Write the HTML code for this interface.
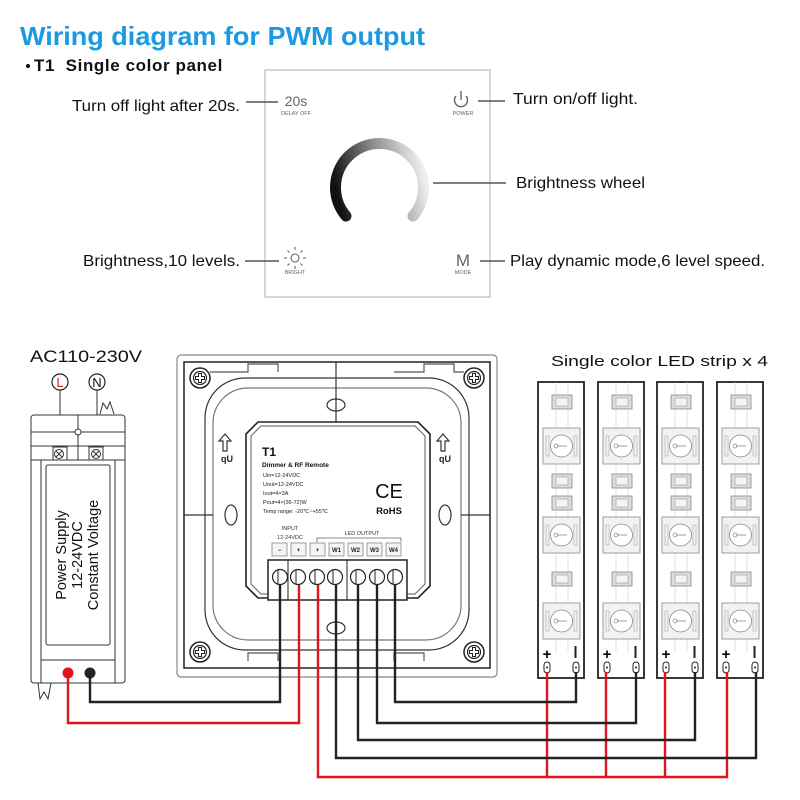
<!DOCTYPE html>
<html><head><meta charset="utf-8"><style>html,body{margin:0;padding:0;background:#fff}svg{display:block}</style></head>
<body>
<svg width="800" height="800" viewBox="0 0 800 800" xmlns="http://www.w3.org/2000/svg" font-family="Liberation Sans, Arial, sans-serif">
<defs>
<linearGradient id="wg" x1="0" y1="0.6" x2="1" y2="0.4">
<stop offset="0" stop-color="#111"/><stop offset="0.5" stop-color="#888"/><stop offset="1" stop-color="#eee"/>
</linearGradient>
<g id="screw"><circle r="10" fill="#fff" stroke="#222" stroke-width="1.5"/><circle r="6.5" fill="none" stroke="#222" stroke-width="1.2"/><path d="M-1.5,-4.5h3v3h3v3h-3v3h-3v-3h-3v-3h3z" fill="#fff" stroke="#222" stroke-width="1"/></g>
<g id="res"><rect x="0" y="0" width="20" height="14" fill="#ddd" stroke="#888" stroke-width="0.8"/><rect x="4" y="3" width="12" height="8" fill="#f4f4f4" stroke="#999" stroke-width="0.6"/></g>
<g id="led"><rect x="0" y="0" width="37" height="36" fill="#f2f2f2" stroke="#888" stroke-width="0.8"/><circle cx="18.5" cy="18" r="11" fill="#fff" stroke="#888" stroke-width="0.8"/><line x1="14" y1="18" x2="24" y2="18" stroke="#888" stroke-width="0.8"/><circle cx="13" cy="18" r="2" fill="none" stroke="#888" stroke-width="0.7"/><rect x="3" y="8" width="3" height="20" fill="none" stroke="#aaa" stroke-width="0.6"/><rect x="31" y="8" width="3" height="20" fill="none" stroke="#aaa" stroke-width="0.6"/></g>
<g id="strip">
<rect x="0" y="0" width="46" height="296" fill="#fff" stroke="#222" stroke-width="1.8"/>
<line x1="18" y1="0" x2="18" y2="270" stroke="#ccc" stroke-width="0.6"/>
<line x1="30" y1="0" x2="30" y2="270" stroke="#ccc" stroke-width="0.6"/>
<use href="#res" x="14" y="13"/><use href="#led" x="5" y="46"/><use href="#res" x="14" y="92"/><use href="#res" x="14" y="114"/><use href="#led" x="5" y="135"/><use href="#res" x="14" y="190"/><use href="#led" x="5" y="221"/>
<text x="9" y="277" font-size="15" font-weight="bold" text-anchor="middle">+</text>
<line x1="37.5" y1="264" x2="37.5" y2="276" stroke="#222" stroke-width="2"/>
<rect x="6" y="280" width="6" height="11" rx="3" fill="#fff" stroke="#222" stroke-width="1"/><circle cx="9" cy="285.5" r="1" fill="#222"/>
<rect x="35" y="280" width="6" height="11" rx="3" fill="#fff" stroke="#222" stroke-width="1"/><circle cx="38" cy="285.5" r="1" fill="#222"/>
</g>
</defs>

<!-- Titles -->
<text x="20" y="45" font-size="26" font-weight="bold" fill="#1a9ae0" textLength="405" lengthAdjust="spacingAndGlyphs">Wiring diagram for PWM output</text>
<circle cx="28" cy="66" r="2" fill="#111"/>
<text x="34" y="71" font-size="17" font-weight="bold" fill="#111" letter-spacing="0.6" xml:space="preserve">T1  Single color panel</text>

<!-- Front panel -->
<rect x="265" y="70" width="225" height="227" fill="#fff" stroke="#bbb" stroke-width="1.2"/>
<text x="296" y="106" font-size="14" fill="#666" text-anchor="middle">20s</text>
<text x="296" y="115" font-size="5.5" fill="#666" text-anchor="middle">DELAY OFF</text>
<path d="M456,96 A6.5,6.5 0 1 0 466,96" fill="none" stroke="#666" stroke-width="1.4"/><line x1="461" y1="91" x2="461" y2="100" stroke="#666" stroke-width="1.4"/>
<text x="463" y="115" font-size="5.5" fill="#666" text-anchor="middle">POWER</text>
<path d="M346,216 A44,44 0 1 1 413,216" fill="none" stroke="url(#wg)" stroke-width="11" stroke-linecap="round"/>
<g stroke="#666" stroke-width="1.1" fill="none"><circle cx="295" cy="258" r="4"/><path d="M295,250v-3M295,266v3M287,258h-3M303,258h3M289.5,252.5l-2,-2M300.5,263.5l2,2M300.5,252.5l2,-2M289.5,263.5l-2,2"/></g>
<text x="295" y="274" font-size="5.5" fill="#666" text-anchor="middle">BRIGHT</text>
<text x="463" y="266" font-size="17" fill="#666" text-anchor="middle">M</text>
<text x="463" y="274" font-size="5.5" fill="#666" text-anchor="middle">MODE</text>
<g stroke="#333" stroke-width="1.2">
<line x1="246" y1="102" x2="278" y2="102"/><line x1="478" y1="101" x2="505" y2="101"/>
<line x1="433" y1="183" x2="506" y2="183"/><line x1="245" y1="261" x2="279" y2="261"/><line x1="480" y1="261" x2="505" y2="261"/>
</g>
<g font-size="16" fill="#111">
<text x="72" y="111" textLength="168" lengthAdjust="spacingAndGlyphs">Turn off light after 20s.</text>
<text x="513" y="104" textLength="125" lengthAdjust="spacingAndGlyphs">Turn on/off light.</text>
<text x="516" y="188" textLength="129" lengthAdjust="spacingAndGlyphs">Brightness wheel</text>
<text x="83" y="266" textLength="157" lengthAdjust="spacingAndGlyphs">Brightness,10 levels.</text>
<text x="510" y="266" textLength="255" lengthAdjust="spacingAndGlyphs">Play dynamic mode,6 level speed.</text>
</g>

<!-- Power supply -->
<text x="30" y="362" font-size="16.5" fill="#111" textLength="112" lengthAdjust="spacingAndGlyphs">AC110-230V</text>
<circle cx="60" cy="382" r="8" fill="#fff" stroke="#222" stroke-width="1.2"/><text x="60" y="387" font-size="13" fill="#e0141e" text-anchor="middle">L</text>
<circle cx="97" cy="382" r="8" fill="#fff" stroke="#222" stroke-width="1.2"/><text x="97" y="387" font-size="13" fill="#111" text-anchor="middle">N</text>
<g stroke="#333" stroke-width="1" fill="none">
<line x1="60" y1="390" x2="60" y2="450"/><line x1="97" y1="390" x2="97" y2="450"/>
<path d="M100,414 l3,-11 l4,6 l3,-7 l4,12"/>
<rect x="31" y="415" width="94" height="268" rx="3" fill="#fff"/>
<line x1="31" y1="432" x2="125" y2="432"/><line x1="31" y1="446" x2="125" y2="446"/><line x1="31" y1="460" x2="125" y2="460"/>
<line x1="78" y1="415" x2="78" y2="460"/>
<line x1="41" y1="460" x2="41" y2="683"/><line x1="115" y1="460" x2="115" y2="683"/><line x1="41" y1="660" x2="115" y2="660"/>
<rect x="46" y="465" width="64" height="180" rx="2"/>
<rect x="53" y="447" width="14" height="13"/><rect x="89" y="447" width="14" height="13"/>
<path d="M38,683 l2,16 l4,-7 l4,7 l3,-16"/>
</g>
<circle cx="78" cy="432" r="3" fill="#fff" stroke="#333"/>
<g stroke="#333" stroke-width="1" fill="#fff"><circle cx="59" cy="454" r="4.5"/><circle cx="96" cy="454" r="4.5"/><path d="M56,451l6,6M62,451l-6,6M93,451l6,6M99,451l-6,6"/></g>
<g transform="translate(78,555) rotate(-90)" font-size="14.5" fill="#111" text-anchor="middle">
<text x="0" y="-12">Power Supply</text><text x="0" y="4">12-24VDC</text><text x="0" y="20">Constant Voltage</text>
</g>

<!-- Controller back -->
<g stroke="#333" stroke-width="1.2" fill="none">
<rect x="177" y="355" width="320" height="322" rx="4" fill="#fff" stroke="#888"/>
<rect x="184" y="362" width="306" height="306" stroke="#222" stroke-width="1.5"/>
<rect x="205" y="378" width="264" height="272" rx="40"/>
<rect x="213" y="388" width="248" height="252" rx="35" stroke="#777"/>
<line x1="336" y1="362" x2="336" y2="422"/><line x1="184" y1="515" x2="213" y2="515"/><line x1="461" y1="515" x2="490" y2="515"/>
<path d="M210,372 h38 v-8 h30 v8 M394,372 h30 v-8 h30 v8 h10" stroke="#555"/>
<path d="M248,661 v-8 h30 v8 M394,661 v-8 h30 v8" stroke="#555"/>
<ellipse cx="336" cy="405" rx="9" ry="6"/><ellipse cx="336" cy="628" rx="9" ry="6"/>
<ellipse cx="231" cy="515" rx="6" ry="10"/><ellipse cx="445" cy="515" rx="6" ry="10"/>
<path d="M258,422 h160 l12,12 v152 l-12,12 h-160 l-12,-12 v-152 z" stroke="#222" stroke-width="1.6" fill="#fff"/>
<path d="M261,426 h154 l10,10 v148 l-10,10 h-154 l-10,-10 v-148 z" stroke="#777"/>
<path d="M223,451v-10h-4l6,-7l6,7h-4v10z"/><path d="M441,451v-10h-4l6,-7l6,7h-4v10z"/>
</g>
<text x="227" y="462" font-size="9" font-weight="bold" fill="#222" text-anchor="middle">qU</text>
<text x="445" y="462" font-size="9" font-weight="bold" fill="#222" text-anchor="middle">qU</text>
<use href="#screw" x="200" y="378"/><use href="#screw" x="474" y="378"/><use href="#screw" x="200" y="652"/><use href="#screw" x="474" y="652"/>
<text x="262" y="456" font-size="12" font-weight="bold" fill="#111">T1</text>
<text x="262" y="467" font-size="6.5" font-weight="bold" fill="#111">Dimmer &amp; RF Remote</text>
<g font-size="5.5" fill="#222"><text x="263" y="477">Uin=12-24VDC</text><text x="263" y="486">Uout=12-24VDC</text><text x="263" y="495">Iout=4×3A</text><text x="263" y="504">Pout=4×(36-72)W</text><text x="263" y="513">Temp range: -20℃~+55℃</text></g>
<text x="389" y="498" font-size="20" fill="#111" text-anchor="middle">CE</text>
<text x="389" y="514" font-size="9.5" font-weight="bold" fill="#111" text-anchor="middle">RoHS</text>
<g font-size="5.5" fill="#333" text-anchor="middle"><text x="290" y="530">INPUT</text><text x="290" y="539">12-24VDC</text><text x="362" y="535">LED OUTPUT</text></g>
<path d="M317,542 v-4 h84 v4" fill="none" stroke="#666" stroke-width="0.8"/>
<g stroke="#888" stroke-width="0.8" fill="#f4f4f4">
<rect x="272" y="543" width="15" height="13"/><rect x="291" y="543" width="15" height="13"/><rect x="310" y="543" width="15" height="13"/><rect x="329" y="543" width="15" height="13"/><rect x="348" y="543" width="15" height="13"/><rect x="367" y="543" width="15" height="13"/><rect x="386" y="543" width="15" height="13"/>
</g>
<g font-size="6" fill="#222" text-anchor="middle" font-weight="bold"><text x="279.5" y="552">−</text><text x="298.5" y="552">+</text><text x="317.5" y="552">+</text><text x="336.5" y="552">W1</text><text x="355.5" y="552">W2</text><text x="374.5" y="552">W3</text><text x="393.5" y="552">W4</text></g>
<rect x="268" y="560" width="139" height="40" fill="#fff" stroke="#222" stroke-width="1.5"/>
<line x1="288" y1="560" x2="288" y2="600" stroke="#222"/><line x1="347" y1="560" x2="347" y2="600" stroke="#222"/>
<g fill="#fff" stroke="#222" stroke-width="1.2">
<circle cx="280" cy="577" r="7.5"/><circle cx="298" cy="577" r="7.5"/><circle cx="317" cy="577" r="7.5"/><circle cx="335" cy="577" r="7.5"/><circle cx="358" cy="577" r="7.5"/><circle cx="377" cy="577" r="7.5"/><circle cx="395" cy="577" r="7.5"/>
</g>
<g stroke="#222" stroke-width="1"><line x1="278" y1="570" x2="278" y2="584"/><line x1="296" y1="570" x2="296" y2="584"/><line x1="315" y1="570" x2="315" y2="584"/><line x1="333" y1="570" x2="333" y2="584"/><line x1="356" y1="570" x2="356" y2="584"/><line x1="375" y1="570" x2="375" y2="584"/><line x1="393" y1="570" x2="393" y2="584"/></g>

<!-- LED strips -->
<text x="551" y="366" font-size="15" fill="#111" textLength="217" lengthAdjust="spacingAndGlyphs">Single color LED strip x 4</text>
<use href="#strip" x="538" y="382"/><use href="#strip" x="598" y="382"/><use href="#strip" x="657" y="382"/><use href="#strip" x="717" y="382"/>

<!-- Wires -->
<g fill="none" stroke-width="2.4" stroke-linejoin="miter">
<path d="M280,585 V702 H90 V673" stroke="#222"/>
<path d="M299,585 V723 H68 V673" stroke="#e0141e"/>
<path d="M318,585 V777 H727 V672" stroke="#e0141e"/>
<path d="M547,672 V777 M606,672 V777 M665,672 V777" stroke="#e0141e"/>
<path d="M336,585 V758 H756 V672" stroke="#222"/>
<path d="M358,585 V740 H695 V672" stroke="#222"/>
<path d="M377,585 V723 H636 V672" stroke="#222"/>
<path d="M395,585 V702 H576 V672" stroke="#222"/>
</g>
<circle cx="68" cy="673" r="5.5" fill="#e0141e"/><circle cx="90" cy="673" r="5.5" fill="#222"/>
</svg>
</body></html>
